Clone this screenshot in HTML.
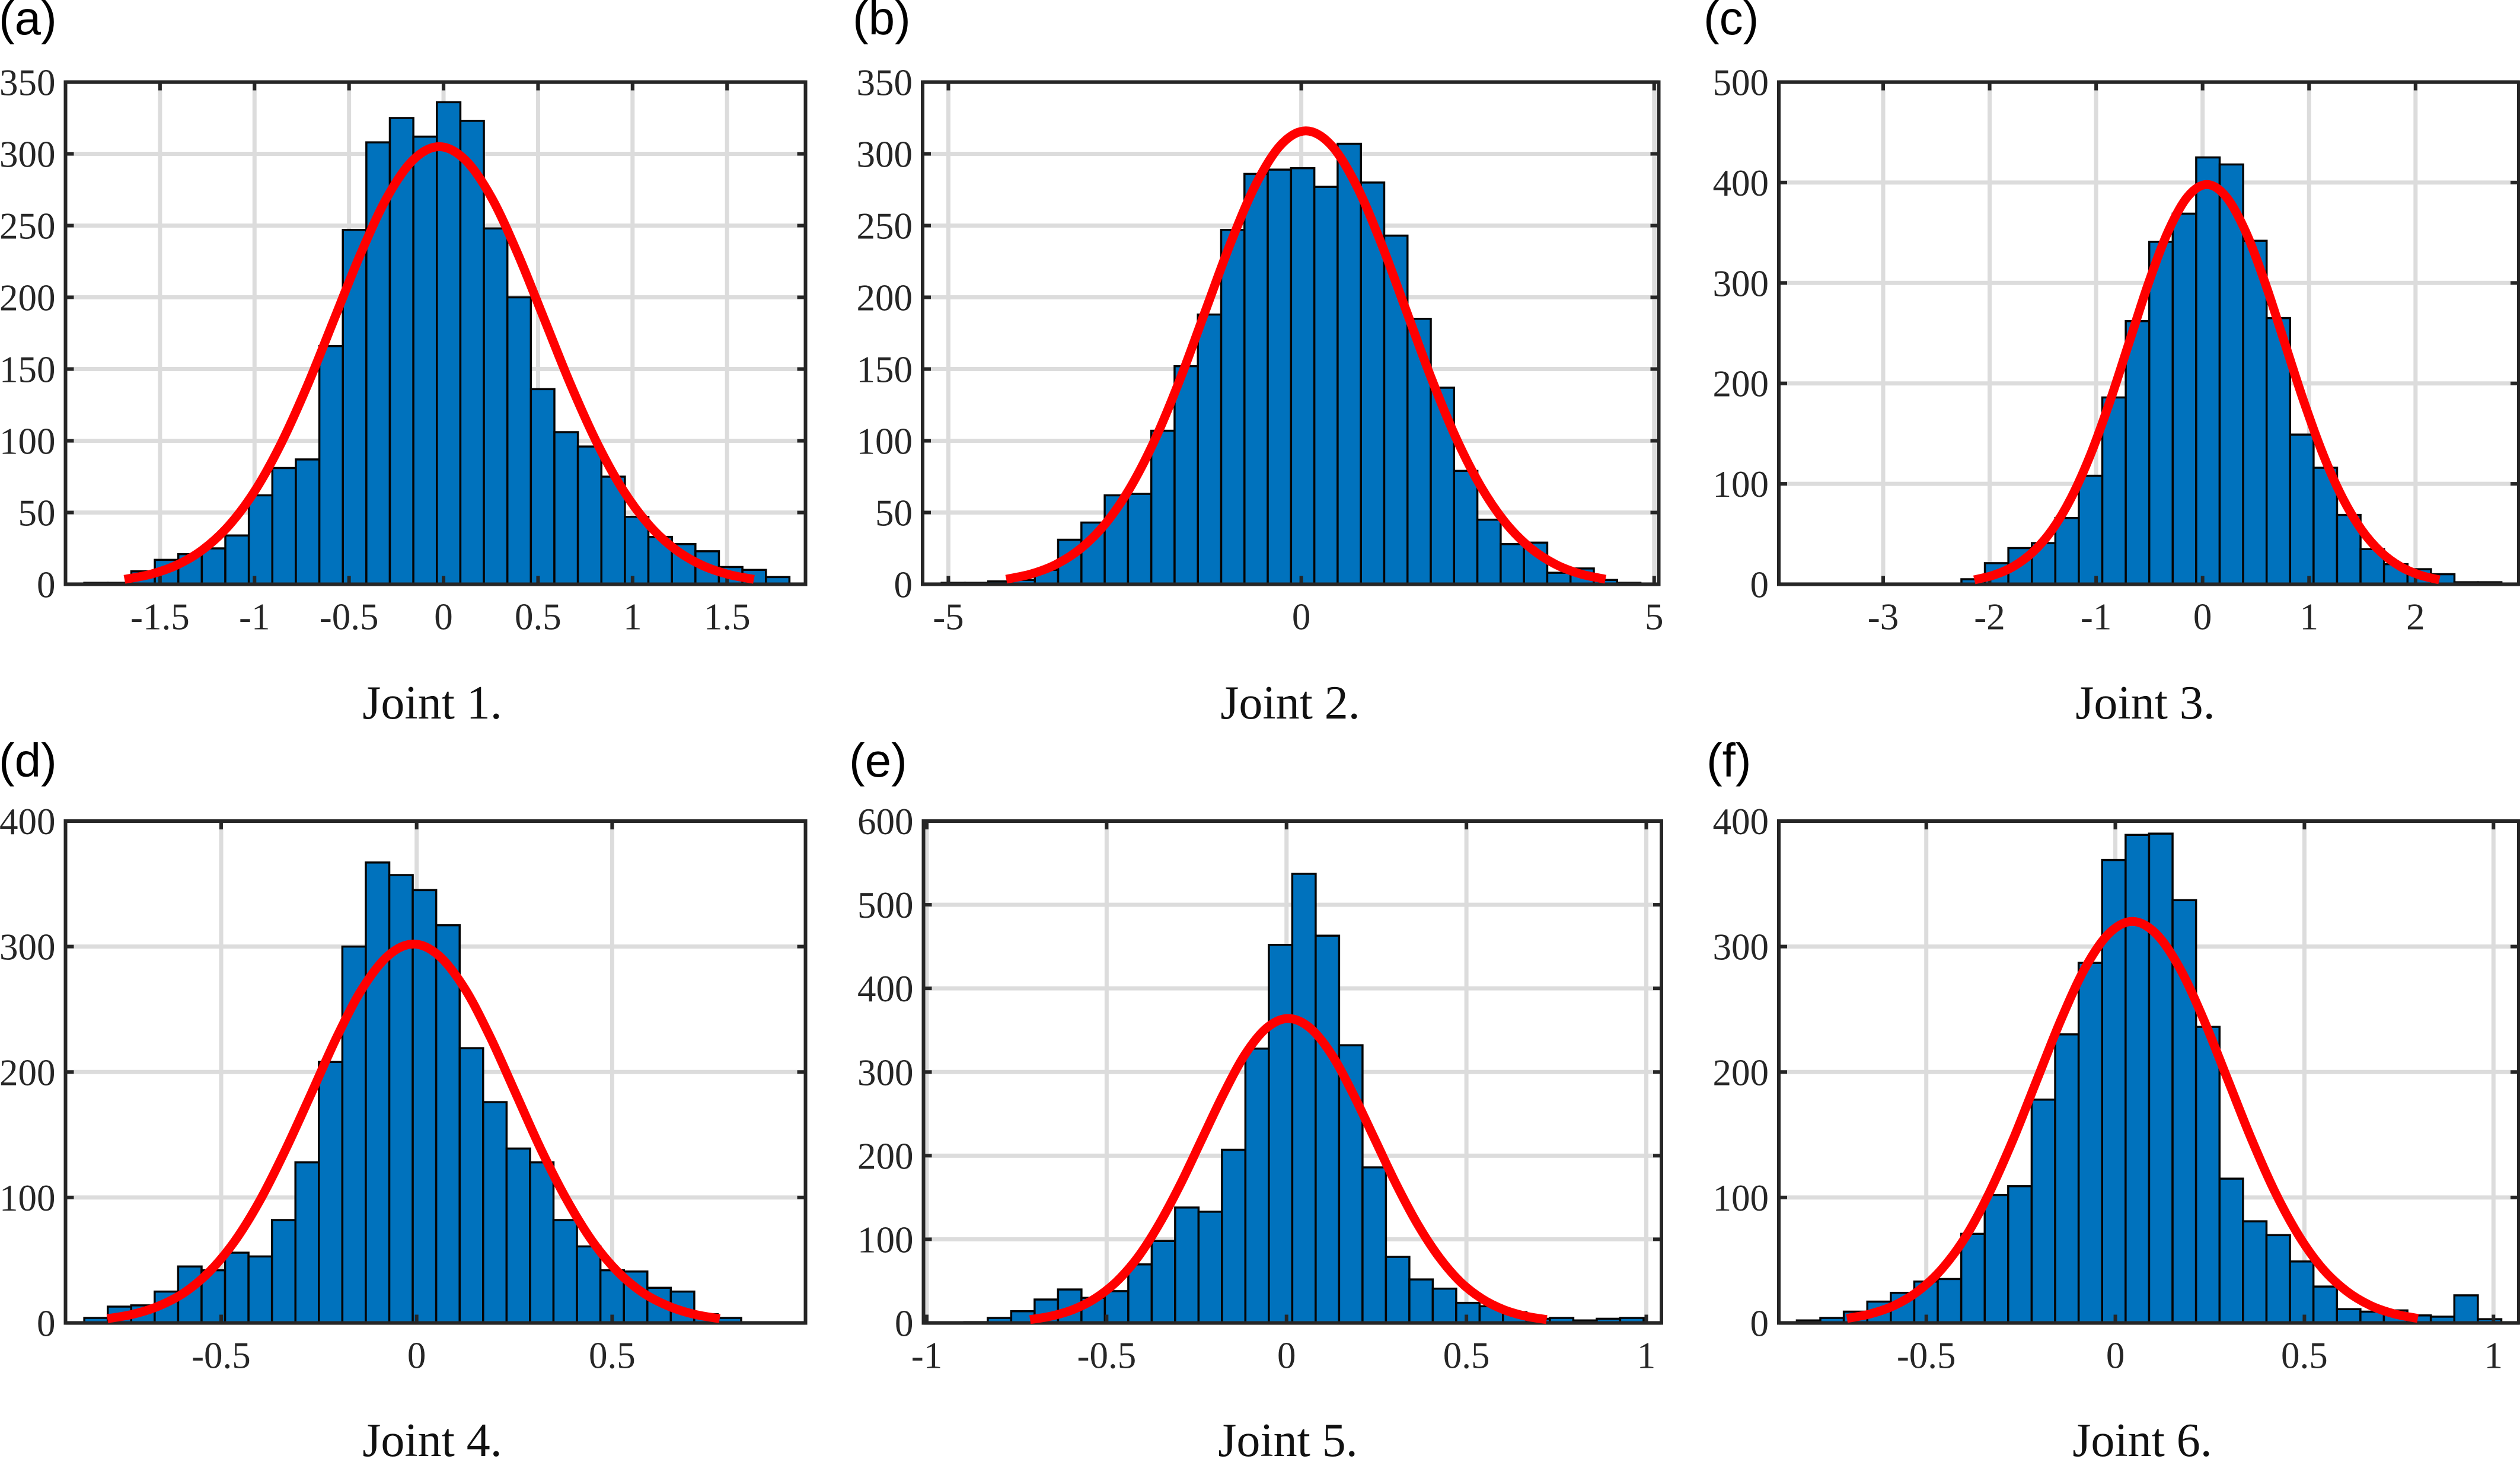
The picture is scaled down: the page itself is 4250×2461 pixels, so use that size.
<!DOCTYPE html>
<html lang="en">
<head>
<meta charset="utf-8">
<title>Joint error histograms</title>
<style>
html,body{margin:0;padding:0;background:#fff;width:4250px;height:2461px;overflow:hidden}
svg{display:block}
.serif{font-family:"Liberation Serif",serif;fill:#262626}
.cap{font-family:"Liberation Serif",serif;font-size:80px;fill:#111;text-anchor:middle}
.tag{font-family:"Liberation Sans",sans-serif;font-size:80px;fill:#000}
</style>
</head>
<body>
<svg id="figure" xmlns="http://www.w3.org/2000/svg" width="4250" height="2461" viewBox="0 0 4250 2461">
<rect width="4250" height="2461" fill="#fff"/>
<g id="plots"></g>
<text class="tag" x="-2" y="58">(a)</text>
<text class="tag" x="1438" y="58">(b)</text>
<text class="tag" x="2873" y="58">(c)</text>
<text class="tag" x="-2" y="1310">(d)</text>
<text class="tag" x="1432" y="1310">(e)</text>
<text class="tag" x="2878" y="1310">(f)</text>
<text class="cap" x="729" y="1212">Joint 1.</text>
<text class="cap" x="2176" y="1212">Joint 2.</text>
<text class="cap" x="3618" y="1212">Joint 3.</text>
<text class="cap" x="729" y="2456">Joint 4.</text>
<text class="cap" x="2172" y="2456">Joint 5.</text>
<text class="cap" x="3613" y="2456">Joint 6.</text>
</svg>
<script>
// Joint 1
const joint1Counts=[1,1,9,17,21,25,34,62,81,87,166,247,308,325,312,336,323,248,200,136,106,96,75,47,33,28,23,12,10,5];
const joint1BinStart=-1.9006, joint1BinWidth=0.12435;
const joint1XLim=[-2,1.915], joint1YLim=[0,350];
const joint1XTicks=[-1.5,-1,-0.5,0,0.5,1,1.5];
const joint1YTicks=[0,50,100,150,200,250,300,350];
const joint1FitX=[-1.688,-1.549,-1.411,-1.272,-1.133,-0.994,-0.856,-0.717,-0.578,-0.439,-0.301,-0.162,-0.023,0.116,0.255,0.393,0.532,0.671,0.810,0.948,1.087,1.226,1.365,1.503,1.642];
const joint1FitY=[3.4,7,13.4,24.3,41.3,66,99,139.6,185,230.2,269.2,295.6,305,295.6,269.2,230.2,185,139.6,99,66,41.3,24.3,13.4,7,3.4];
// Joint 2
const joint2Counts=[1,1,2,3,10,31,43,62,63,107,152,188,247,286,289,290,277,307,280,243,185,137,79,45,28,29,8,11,3,1];
const joint2BinStart=-5.095, joint2BinWidth=0.33;
const joint2XLim=[-5.365,5.065], joint2YLim=[0,350];
const joint2XTicks=[-5,0,5];
const joint2YTicks=[0,50,100,150,200,250,300,350];
const joint2FitX=[-4.18,-3.826,-3.472,-3.118,-2.765,-2.411,-2.057,-1.703,-1.35,-0.996,-0.642,-0.288,0.065,0.419,0.772,1.126,1.48,1.834,2.187,2.541,2.895,3.249,3.602,3.956,4.31];
const joint2FitY=[3.5,7.2,13.9,25.2,42.8,68.4,102.6,144.7,191.7,238.5,278.9,306.3,316,306.3,278.9,238.5,191.7,144.7,102.6,68.4,42.8,25.2,13.9,7.2,3.5];
// Joint 3
const joint3Counts=[5,21,36,41,66,108,186,262,341,369,425,418,342,265,149,116,69,35,20,15,10,2,2];
const joint3BinStart=-2.265, joint3BinWidth=0.2205;
const joint3XLim=[-3.98,2.97], joint3YLim=[0,500];
const joint3XTicks=[-3,-2,-1,0,1,2];
const joint3YTicks=[0,100,200,300,400,500];
const joint3FitX=[-2.144,-1.962,-1.78,-1.598,-1.416,-1.234,-1.052,-0.87,-0.688,-0.506,-0.324,-0.142,0.04,0.222,0.404,0.586,0.768,0.95,1.132,1.314,1.496,1.678,1.86,2.042,2.224];
const joint3FitY=[4.4,9.1,17.5,31.7,53.8,86.1,129.2,182.2,241.4,300.4,351.2,385.7,398,385.7,351.2,300.4,241.4,182.2,129.2,86.1,53.8,31.7,17.5,9.1,4.4];
// Joint 4
const joint4Counts=[4,13,14,25,45,42,56,53,82,128,208,300,367,357,345,317,219,176,139,128,82,61,42,41,28,25,7,4];
const joint4BinStart=-0.85, joint4BinWidth=0.06;
const joint4XLim=[-0.898,0.9945], joint4YLim=[0,400];
const joint4XTicks=[-0.5,0,0.5];
const joint4YTicks=[0,100,200,300,400];
const joint4FitX=[-0.791,-0.726,-0.661,-0.595,-0.53,-0.465,-0.4,-0.335,-0.269,-0.204,-0.139,-0.073,-0.008,0.057,0.123,0.188,0.253,0.318,0.384,0.449,0.514,0.579,0.645,0.71,0.775];
const joint4FitY=[3.4,6.9,13.3,24,40.9,65.3,98.1,138.3,183.2,228,266.5,292.7,302,292.7,266.5,228,183.2,138.3,98.1,65.3,40.9,24,13.3,6.9,3.4];
// Joint 5
const joint5Counts=[1,6,14,28,40,30,38,70,98,138,133,207,328,452,537,463,332,186,79,52,41,24,20,13,5,6,3,5,6];
const joint5BinStart=-0.8955, joint5BinWidth=0.0651;
const joint5XLim=[-1.009,1.042], joint5YLim=[0,600];
const joint5XTicks=[-1,-0.5,0,0.5,1];
const joint5YTicks=[0,100,200,300,400,500,600];
const joint5FitX=[-0.713,-0.653,-0.593,-0.533,-0.473,-0.413,-0.354,-0.294,-0.234,-0.174,-0.115,-0.055,0.005,0.065,0.125,0.184,0.244,0.304,0.364,0.424,0.483,0.543,0.603,0.663,0.723];
const joint5FitY=[4,8.3,16,29,49.2,78.7,118.2,166.6,220.8,274.7,321.2,352.8,364,352.8,321.2,274.7,220.8,166.6,118.2,78.7,49.2,29,16,8.3,4];
// Joint 6
const joint6Counts=[2,4,9,17,24,33,35,71,102,109,178,230,287,369,389,390,337,236,115,81,70,49,29,11,9,10,6,5,22,3];
const joint6BinStart=-0.8423, joint6BinWidth=0.0621;
const joint6XLim=[-0.89,1.067], joint6YLim=[0,400];
const joint6XTicks=[-0.5,0,0.5,1];
const joint6YTicks=[0,100,200,300,400];
const joint6FitX=[-0.71,-0.647,-0.584,-0.521,-0.458,-0.395,-0.333,-0.27,-0.207,-0.144,-0.081,-0.018,0.045,0.108,0.171,0.234,0.297,0.36,0.423,0.486,0.548,0.611,0.674,0.737,0.8];
const joint6FitY=[3.6,7.3,14,25.5,43.3,69.2,103.9,146.5,194.1,241.5,282.4,310.1,320,310.1,282.4,241.5,194.1,146.5,103.9,69.2,43.3,25.5,14,7.3,3.6];

const NS='http://www.w3.org/2000/svg';
function make(parent,tag,attrs,text){
  const el=document.createElementNS(NS,tag);
  for(const k in attrs) el.setAttribute(k,attrs[k]);
  if(text!==undefined) el.textContent=text;
  parent.appendChild(el);
  return el;
}
function splinePath(pts){
  let d='M'+pts[0][0].toFixed(2)+' '+pts[0][1].toFixed(2);
  for(let i=0;i<pts.length-1;i++){
    const p0=pts[Math.max(i-1,0)],p1=pts[i],p2=pts[i+1],p3=pts[Math.min(i+2,pts.length-1)];
    d+=' C'+(p1[0]+(p2[0]-p0[0])/6).toFixed(2)+' '+(p1[1]+(p2[1]-p0[1])/6).toFixed(2)
      +' '+(p2[0]-(p3[0]-p1[0])/6).toFixed(2)+' '+(p2[1]-(p3[1]-p1[1])/6).toFixed(2)
      +' '+p2[0].toFixed(2)+' '+p2[1].toFixed(2);
  }
  return d;
}
function drawPanel(id,frame,xLim,yLim,xTicks,yTicks,counts,binStart,binWidth,fitX,fitY){
  const [L,T,R,B]=frame;
  const sx=v=>L+(v-xLim[0])/(xLim[1]-xLim[0])*(R-L);
  const sy=v=>B-(v-yLim[0])/(yLim[1]-yLim[0])*(B-T);
  const root=document.getElementById('plots');
  const g=make(root,'g',{});
  
  

  const grid=make(g,'g',{stroke:'#dcdcdc','stroke-width':7,fill:'none'});
  
  
  xTicks.forEach(v=>{
    const ln=make(grid,'line',{x1:sx(v),x2:sx(v),y1:T,y2:B});
    
    
  });
  yTicks.forEach(v=>{
    const ln=make(grid,'line',{x1:L,x2:R,y1:sy(v),y2:sy(v)});
    
    
  });

  const bars=make(g,'g',{fill:'#0072bd',stroke:'#050505','stroke-width':3.5});
  
  
  counts.forEach((c,i)=>{
    const x0=sx(binStart+i*binWidth),x1=sx(binStart+(i+1)*binWidth);
    const r=make(bars,'rect',{x:x0,y:sy(c),width:x1-x0,height:sy(0)-sy(c)});
    
    
  });

  const axes=make(g,'g',{stroke:'#262626',fill:'none'});
  
  
  const box=make(axes,'rect',{x:L,y:T,width:R-L,height:B-T,'stroke-width':6});
  
  
  xTicks.forEach(v=>{
    const a=make(axes,'line',{x1:sx(v),x2:sx(v),y1:B,y2:B-14,'stroke-width':6});
    
    
    const b=make(axes,'line',{x1:sx(v),x2:sx(v),y1:T,y2:T+14,'stroke-width':6});
    
    
    const t=make(g,'text',{class:'serif',x:sx(v),y:B+76,'font-size':63,'text-anchor':'middle'},String(v));
    
    
  });
  yTicks.forEach(v=>{
    const a=make(axes,'line',{x1:L,x2:L+14,y1:sy(v),y2:sy(v),'stroke-width':6});
    
    
    const b=make(axes,'line',{x1:R,x2:R-14,y1:sy(v),y2:sy(v),'stroke-width':6});
    
    
    const t=make(g,'text',{class:'serif',x:L-17,y:sy(v)+22,'font-size':63,'text-anchor':'end'},String(v));
    
    
  });

  const pts=fitX.map((x,i)=>[sx(x),sy(fitY[i])]);
  const curve=make(g,'path',{d:splinePath(pts),fill:'none',stroke:'#ff0000','stroke-width':15});
  
  
}
drawPanel('joint-1',[110.5,138.5,1358.5,985.5],joint1XLim,joint1YLim,joint1XTicks,joint1YTicks,joint1Counts,joint1BinStart,joint1BinWidth,joint1FitX,joint1FitY);
drawPanel('joint-2',[1556,138.5,2797.5,985.5],joint2XLim,joint2YLim,joint2XTicks,joint2YTicks,joint2Counts,joint2BinStart,joint2BinWidth,joint2FitX,joint2FitY);
drawPanel('joint-3',[3000,138.5,4248,985.5],joint3XLim,joint3YLim,joint3XTicks,joint3YTicks,joint3Counts,joint3BinStart,joint3BinWidth,joint3FitX,joint3FitY);
drawPanel('joint-4',[110.5,1385,1358.5,2231.5],joint4XLim,joint4YLim,joint4XTicks,joint4YTicks,joint4Counts,joint4BinStart,joint4BinWidth,joint4FitX,joint4FitY);
drawPanel('joint-5',[1557.5,1385,2802,2231.5],joint5XLim,joint5YLim,joint5XTicks,joint5YTicks,joint5Counts,joint5BinStart,joint5BinWidth,joint5FitX,joint5FitY);
drawPanel('joint-6',[3000,1385,4248,2231.5],joint6XLim,joint6YLim,joint6XTicks,joint6YTicks,joint6Counts,joint6BinStart,joint6BinWidth,joint6FitX,joint6FitY);
</script>
</body>
</html>
